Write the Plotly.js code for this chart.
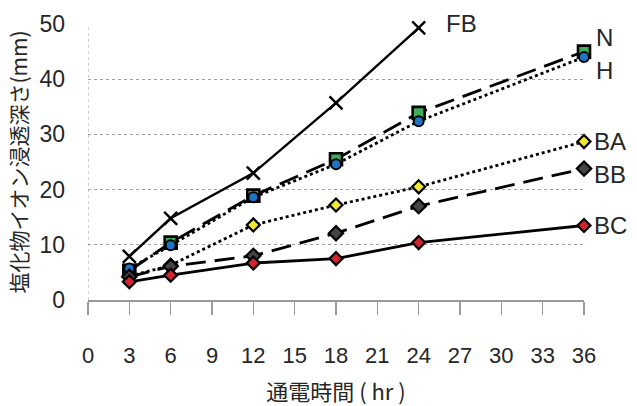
<!DOCTYPE html>
<html>
<head>
<meta charset="utf-8">
<script src="https://cdn.plot.ly/plotly-3.0.1.min.js"></script>
<style>
html,body{margin:0;padding:0;background:#fff;}
#chart{width:637px;height:406px;}
</style>
</head>
<body>
<div id="chart"></div>
<script>
// Data
const hours = [3, 6, 12, 18, 24, 36];
const hoursFB = [3, 6, 12, 18, 24];
const seriesNames = ['FB', 'N', 'H', 'BA', 'BB', 'BC'];
const valFB = [7.9, 14.8, 23.0, 35.7, 49.3];
const valN = [5.3, 10.4, 18.9, 25.5, 33.9, 45.0];
const valH = [5.7, 9.9, 18.6, 24.6, 32.4, 44.0];
const valBA = [4.3, 6.3, 13.6, 17.2, 20.5, 28.7];
const valBB = [4.2, 6.1, 8.0, 12.1, 17.0, 23.8];
const valBC = [3.3, 4.5, 6.7, 7.5, 10.4, 13.5];
const xTicks = [0, 3, 6, 9, 12, 15, 18, 21, 24, 27, 30, 33, 36];
const yTicks = [0, 10, 20, 30, 40, 50];
const xTitle = '通電時間 ( hr )';
const yTitle = '塩化物イオン浸透深さ(mm)';

const FONT = 'Liberation Sans, Arial, sans-serif';
const CJK = 'Noto Sans CJK JP, sans-serif';
const TXT = '#262626';

const styles = {
  FB: {line: {color: '#000', width: 2.4, dash: 'solid'}, marker: {symbol: 'x-thin', size: 13, line: {color: '#000', width: 2.4}}},
  N:  {line: {color: '#000', width: 2.8, dash: '20px,9px'}, marker: {symbol: 'square', size: 12, color: '#3fae5a', line: {color: '#000', width: 2.6}}},
  H:  {line: {color: '#000', width: 2.8, dash: 'dot'}, marker: {symbol: 'circle', size: 10, color: '#1f74c4', line: {color: '#000', width: 2}}},
  BA: {line: {color: '#000', width: 2.8, dash: 'dot'}, marker: {symbol: 'diamond', size: 10, color: '#f2e733', line: {color: '#000', width: 2.2}}},
  BB: {line: {color: '#000', width: 2.8, dash: '20px,9px'}, marker: {symbol: 'diamond', size: 11, color: '#444', line: {color: '#000', width: 2.2}}},
  BC: {line: {color: '#000', width: 2.8, dash: 'solid'}, marker: {symbol: 'diamond', size: 10, color: '#d0242f', line: {color: '#000', width: 2.2}}}
};

const dataMap = {FB: [hoursFB, valFB], N: [hours, valN], H: [hours, valH], BA: [hours, valBA], BB: [hours, valBB], BC: [hours, valBC]};

const traces = seriesNames.map(n => ({
  type: 'scatter', mode: 'lines+markers', name: n,
  x: dataMap[n][0], y: dataMap[n][1],
  line: styles[n].line, marker: styles[n].marker, cliponaxis: false
}));

const labelOffsets = {FB: [25, 4], N: [10, 14], H: [10, -13], BA: [8, 0], BB: [8, -6], BC: [8, 0]};
const annotations = seriesNames.map(n => {
  const xs = dataMap[n][0], ys = dataMap[n][1];
  return {
    x: xs[xs.length - 1], y: ys[ys.length - 1], xref: 'x', yref: 'y',
    text: n, showarrow: false, xanchor: 'left', yanchor: 'middle',
    xshift: labelOffsets[n][0], yshift: labelOffsets[n][1],
    font: {family: FONT, size: 24, color: TXT}
  };
});

const layout = {
  width: 637, height: 406,
  margin: {l: 88, r: 53, t: 24, b: 106},
  paper_bgcolor: '#fff', plot_bgcolor: '#fff',
  showlegend: false,
  xaxis: {
    range: [0, 36], tickvals: xTicks, ticktext: xTicks.map(String),
    showgrid: false, zeroline: false,
    showline: true, linecolor: '#9a9a9a', linewidth: 1.5,
    ticks: 'outside', ticklen: 13, tickcolor: '#9a9a9a', tickwidth: 1.5,
    ticklabelstandoff: 22,
    tickfont: {family: FONT, size: 22, color: TXT},
    title: {text: xTitle, font: {family: CJK, size: 22, color: TXT}, standoff: 20}
  },
  yaxis: {
    range: [0, 50], tickvals: yTicks,
    showgrid: true, gridcolor: '#a0a0a0', gridwidth: 1, griddash: 'dot',
    zeroline: false, showline: false, ticks: '',
    ticklabelstandoff: 22,
    tickfont: {family: FONT, size: 23, color: TXT},
    title: {text: yTitle, font: {family: CJK, size: 21, color: TXT}, standoff: 6}
  },
  shapes: [{type: 'line', xref: 'x', yref: 'paper', x0: 0, x1: 0, y0: 0, y1: 1, line: {color: '#a0a0a0', width: 1, dash: 'dot'}, layer: 'below'}],
  annotations: annotations
};

Plotly.newPlot('chart', traces, layout, {displayModeBar: false, staticPlot: true});
</script>
</body>
</html>
